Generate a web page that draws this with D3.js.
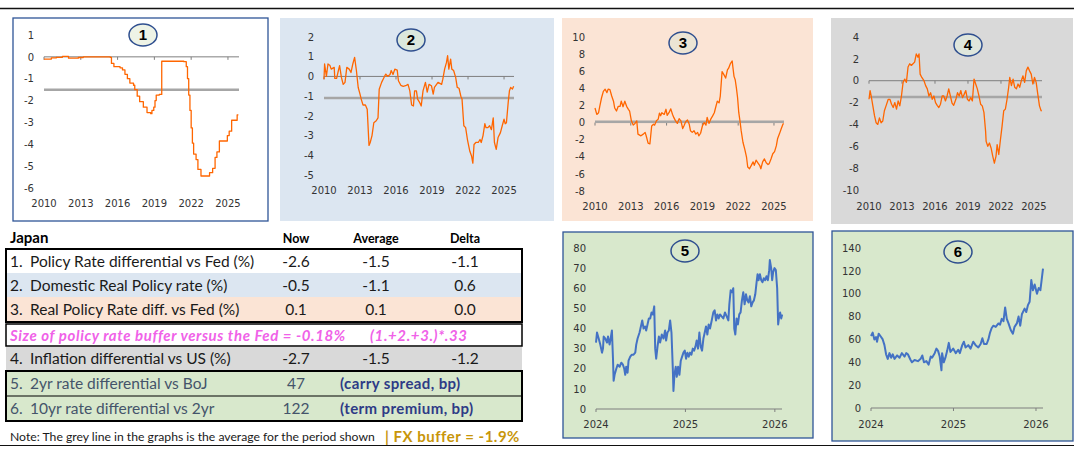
<!DOCTYPE html>
<html>
<head>
<meta charset="utf-8">
<script src="https://cdn.jsdelivr.net/npm/d3@7"></script>
<style>
body{margin:0;background:#fff}
svg{display:block}
</style>
</head>
<body>
<div id="graph"></div>
<script>
// x labels
var yearsLong = [2010, 2013, 2016, 2019, 2022, 2025]
var yearsShort = [2024, 2025, 2026]

// 1. policy rate differential vs Fed (step series)
var policyDiff = [[2010.0,-0.1],[2010.6,-0.05],[2011.0,-0.02],[2011.5,0.02],[2012.0,-0.06],[2012.8,-0.03],[2013.2,0],[2015.4,-0.02],[2015.5,-0.3],[2015.7,-0.45],[2016.2,-0.5],[2016.4,-0.6],[2016.6,-0.8],[2016.8,-1.0],[2017.0,-1.2],[2017.3,-1.3],[2017.4,-1.5],[2017.6,-1.8],[2017.8,-2.05],[2018.1,-2.3],[2018.4,-2.55],[2018.7,-2.6],[2018.8,-2.45],[2018.95,-2.3],[2019.05,-2.0],[2019.15,-1.75],[2019.4,-1.72],[2019.6,-0.2],[2021.4,-0.22],[2021.6,-0.45],[2021.7,-1.0],[2021.8,-1.75],[2021.9,-2.45],[2022.0,-3.25],[2022.1,-3.95],[2022.2,-4.45],[2022.4,-4.7],[2022.55,-5.15],[2022.8,-5.45],[2023.5,-5.3],[2023.75,-5.1],[2023.95,-4.6],[2024.1,-4.35],[2024.3,-3.85],[2024.95,-3.6],[2025.1,-3.4],[2025.3,-2.9],[2025.75,-2.65],[2025.85,-2.65]]

// 2. domestic real policy rate
var realPolicy = [[2010,-0.14],[2010.05,0.63],[2010.2,0],[2010.33,0.63],[2010.5,0.55],[2010.6,0.37],[2010.85,0.46],[2010.9,-0.1],[2011.05,-0.1],[2011.2,0.3],[2011.3,0.55],[2011.45,-0.05],[2011.6,-0.4],[2011.75,-0.3],[2011.9,0.46],[2012.1,0.37],[2012.25,0.2],[2012.4,0.63],[2012.55,0.97],[2012.7,0.3],[2012.85,-0.56],[2013,-0.9],[2013.1,-1.15],[2013.25,-1.45],[2013.45,-1.45],[2013.6,-1.66],[2013.75,-3.5],[2013.85,-3.35],[2014,-3.0],[2014.15,-2.35],[2014.35,-2.25],[2014.5,-2.1],[2014.6,-0.65],[2014.8,-0.3],[2015,-0.05],[2015.15,0.12],[2015.3,0],[2015.5,0.1],[2015.6,0.3],[2015.75,0.1],[2015.9,0.37],[2016.1,0.32],[2016.2,-0.22],[2016.4,-0.45],[2016.6,-0.5],[2016.8,-0.47],[2017,-0.4],[2017.15,-0.73],[2017.3,-1.45],[2017.45,-1.5],[2017.55,-0.73],[2017.7,-0.73],[2017.8,-1.15],[2017.95,-1.3],[2018.1,-1.5],[2018.25,-0.73],[2018.45,-0.3],[2018.6,-0.8],[2018.75,-0.4],[2018.95,-0.47],[2019.1,-0.9],[2019.2,-0.56],[2019.5,-0.3],[2019.8,-0.4],[2019.9,-0.14],[2020.05,0.37],[2020.2,0.7],[2020.3,1.05],[2020.4,0.37],[2020.55,0.88],[2020.65,0.37],[2020.8,0.3],[2020.97,-0.05],[2021.1,-0.56],[2021.25,-0.6],[2021.4,-1.0],[2021.5,-1.15],[2021.65,-2.5],[2021.8,-2.6],[2021.95,-3.2],[2022.15,-3.8],[2022.3,-4.05],[2022.4,-4.4],[2022.5,-3.45],[2022.65,-3.35],[2022.85,-3.35],[2023,-3.2],[2023.1,-3.35],[2023.25,-3.0],[2023.4,-2.4],[2023.5,-2.6],[2023.65,-2.6],[2023.8,-2.5],[2023.95,-2.7],[2024.1,-2.1],[2024.2,-3.35],[2024.35,-3.7],[2024.5,-3.1],[2024.7,-2.85],[2024.85,-2.5],[2025,-2.17],[2025.1,-2.4],[2025.2,-2.35],[2025.35,-1.3],[2025.45,-0.73],[2025.55,-0.56],[2025.7,-0.64],[2025.8,-0.5]]

// 3. real policy rate differential vs Fed
var realDiff = [[2010,1.7],[2010.15,0.95],[2010.3,1.15],[2010.4,1.9],[2010.55,2.9],[2010.7,3.65],[2010.85,3.9],[2011.0,3.5],[2011.1,3.9],[2011.25,3.85],[2011.4,3.1],[2011.55,2.5],[2011.65,1.7],[2011.8,1.35],[2011.95,1.9],[2012.1,1.9],[2012.2,2.5],[2012.35,1.85],[2012.5,2.5],[2012.65,1.9],[2012.8,1.55],[2012.9,1.35],[2013.05,0.2],[2013.2,-0.3],[2013.35,-0.1],[2013.5,0.2],[2013.6,-1.35],[2013.85,-1.55],[2014.05,-1.35],[2014.2,-1.15],[2014.3,-1.6],[2014.45,-2.4],[2014.6,-2.5],[2014.75,-0.4],[2014.9,-0.2],[2015,-0.3],[2015.15,0.2],[2015.3,0.4],[2015.4,1.1],[2015.5,0.8],[2015.6,1.15],[2015.8,0.95],[2015.95,1.55],[2016.05,0.85],[2016.2,1.15],[2016.35,1.6],[2016.5,0.95],[2016.6,0.6],[2016.75,0.2],[2016.9,-0.1],[2017.05,0.45],[2017.2,0.2],[2017.35,-0.7],[2017.45,-0.4],[2017.6,0.1],[2017.75,0.3],[2017.9,-0.2],[2018.0,-0.95],[2018.15,-1.15],[2018.3,-0.95],[2018.45,-1.35],[2018.6,-1.15],[2018.7,-1.55],[2018.85,-1.25],[2019.0,-0.4],[2019.15,0],[2019.3,-0.3],[2019.4,0.6],[2019.55,-0.1],[2019.7,0.4],[2019.85,0.75],[2020,1.15],[2020.1,1.7],[2020.25,2.5],[2020.4,2.3],[2020.5,3.1],[2020.6,5.0],[2020.65,5.95],[2020.8,5.6],[2020.95,5.2],[2021.1,6.15],[2021.2,6.35],[2021.35,6.9],[2021.5,7.2],[2021.55,6.55],[2021.65,5.4],[2021.75,5.0],[2021.85,4.05],[2021.95,2.9],[2022.05,1.15],[2022.15,0.2],[2022.25,-0.95],[2022.4,-2.3],[2022.55,-3.1],[2022.7,-4.05],[2022.8,-5.2],[2022.95,-5.4],[2023.1,-5.0],[2023.25,-4.6],[2023.35,-5.0],[2023.5,-4.4],[2023.65,-4.7],[2023.8,-5.0],[2023.9,-5.4],[2024.05,-4.6],[2024.2,-4.25],[2024.35,-4.7],[2024.5,-4.9],[2024.6,-4.8],[2024.75,-4.25],[2024.9,-3.65],[2025.05,-3.4],[2025.2,-2.7],[2025.3,-1.9],[2025.45,-1.35],[2025.6,-0.75],[2025.75,-0.2],[2025.8,-0.1]]

// 4. inflation differential vs US
var inflDiff = [[2010,-1.7],[2010.1,-0.9],[2010.2,-1.4],[2010.35,-2.3],[2010.5,-3.2],[2010.65,-3.85],[2010.8,-4.0],[2010.95,-3.4],[2011.1,-3.85],[2011.25,-3.7],[2011.4,-2.75],[2011.55,-2.3],[2011.75,-1.7],[2011.9,-1.7],[2012.05,-2.15],[2012.2,-2.45],[2012.35,-2.0],[2012.5,-2.6],[2012.65,-1.85],[2012.8,-2.3],[2012.95,-1.4],[2013.1,-0.15],[2013.25,0.15],[2013.4,-0.15],[2013.55,1.25],[2013.7,1.55],[2013.85,1.4],[2014,1.55],[2014.15,1.7],[2014.3,2.45],[2014.45,2.15],[2014.55,2.45],[2014.65,0.6],[2014.8,0.3],[2015.0,0],[2015.15,-0.45],[2015.3,-0.75],[2015.45,-1.4],[2015.6,-1.1],[2015.75,-1.7],[2015.9,-1.4],[2016.05,-2.0],[2016.2,-2.25],[2016.35,-2.45],[2016.5,-2.15],[2016.65,-1.4],[2016.8,-1.4],[2016.95,-1.85],[2017.1,-1.4],[2017.25,-0.75],[2017.4,-1.4],[2017.55,-2.05],[2017.7,-2.25],[2017.9,-1.7],[2018.05,-1.1],[2018.2,-1.4],[2018.35,-0.9],[2018.5,-1.55],[2018.65,-1.25],[2018.8,-0.9],[2018.95,-1.7],[2019.1,-1.85],[2019.25,-1.55],[2019.4,-1.85],[2019.55,0.15],[2019.7,-0.3],[2019.85,-0.75],[2020,-1.4],[2020.15,-2.15],[2020.3,-2.3],[2020.45,-2.9],[2020.6,-4.6],[2020.65,-5.55],[2020.8,-6.0],[2020.95,-5.7],[2021.1,-6.15],[2021.25,-6.9],[2021.4,-7.55],[2021.55,-6.9],[2021.65,-5.85],[2021.8,-6.75],[2021.95,-5.4],[2022.1,-4.15],[2022.25,-2.75],[2022.4,-2.6],[2022.55,-1.7],[2022.7,-0.6],[2022.8,0.3],[2022.95,-0.45],[2023.1,0.15],[2023.25,-0.6],[2023.4,-0.75],[2023.55,-0.3],[2023.7,-0.6],[2023.85,0],[2024,0.45],[2024.15,-0.15],[2024.3,0.9],[2024.45,1.25],[2024.6,0.9],[2024.75,0.6],[2024.9,-0.3],[2025.05,0.3],[2025.2,-0.15],[2025.35,-1.25],[2025.5,-2.3],[2025.65,-2.75],[2025.7,-2.7]]

// 5. 2yr rate differential vs BoJ (bp)
var carry = [[2024,33],[2024.011,38],[2024.03,35],[2024.048,32],[2024.067,28],[2024.078,30],[2024.086,36],[2024.104,35],[2024.123,33],[2024.134,36],[2024.152,32],[2024.167,36],[2024.178,39],[2024.19,25],[2024.197,14],[2024.208,17],[2024.227,20],[2024.242,22],[2024.264,21],[2024.283,23],[2024.301,22],[2024.316,20],[2024.327,17],[2024.338,21],[2024.353,18],[2024.364,24],[2024.383,26],[2024.401,27],[2024.42,27],[2024.439,28],[2024.45,32],[2024.465,35],[2024.487,38],[2024.502,41],[2024.517,44],[2024.532,40],[2024.55,41],[2024.561,39],[2024.576,42],[2024.591,45],[2024.606,45],[2024.621,48],[2024.636,47],[2024.651,51],[2024.662,30],[2024.673,25],[2024.688,31],[2024.703,36],[2024.717,33],[2024.736,37],[2024.755,35],[2024.773,39],[2024.784,34],[2024.799,38],[2024.814,39],[2024.829,44],[2024.844,38],[2024.859,20],[2024.866,9],[2024.877,17],[2024.892,21],[2024.903,16],[2024.918,21],[2024.933,17],[2024.948,24],[2024.963,26],[2024.978,28],[2024.993,29],[2025.007,25],[2025.022,28],[2025.037,26],[2025.052,28],[2025.067,27],[2025.082,30],[2025.097,29],[2025.112,31],[2025.126,34],[2025.141,30],[2025.156,38],[2025.171,31],[2025.186,29],[2025.201,35],[2025.216,38],[2025.23,41],[2025.245,37],[2025.26,42],[2025.275,40],[2025.294,44],[2025.312,48],[2025.327,49],[2025.342,44],[2025.357,47],[2025.372,45],[2025.387,47],[2025.405,46],[2025.424,45],[2025.442,48],[2025.461,46],[2025.48,44],[2025.491,52],[2025.506,59],[2025.52,58],[2025.535,60],[2025.546,40],[2025.558,37],[2025.572,45],[2025.587,42],[2025.602,47],[2025.617,48],[2025.632,54],[2025.647,58],[2025.662,52],[2025.677,57],[2025.691,54],[2025.706,53],[2025.721,56],[2025.736,51],[2025.751,53],[2025.766,54],[2025.781,57],[2025.796,63],[2025.807,67],[2025.818,64],[2025.833,67],[2025.848,64],[2025.862,63],[2025.877,65],[2025.892,64],[2025.907,66],[2025.922,64],[2025.937,69],[2025.944,74],[2025.959,70],[2025.97,64],[2025.981,68],[2025.996,70],[2026.011,69],[2026.026,60],[2026.037,42],[2026.048,46],[2026.059,48],[2026.071,45],[2026.082,47]]

// 6. 10yr rate differential vs 2yr (bp)
var termPremium = [[2024,63],[2024.02,66],[2024.041,60],[2024.061,62],[2024.073,58],[2024.093,65],[2024.114,63],[2024.142,60],[2024.163,55],[2024.183,47],[2024.203,43],[2024.224,48],[2024.244,44],[2024.264,47],[2024.285,43],[2024.317,46],[2024.346,44],[2024.374,48],[2024.407,45],[2024.427,48],[2024.447,47],[2024.48,42],[2024.496,40],[2024.528,42],[2024.569,41],[2024.602,43],[2024.622,46],[2024.642,40],[2024.671,41],[2024.699,38],[2024.724,45],[2024.74,44],[2024.772,48],[2024.793,52],[2024.813,50],[2024.833,45],[2024.854,33],[2024.862,48],[2024.882,40],[2024.902,44],[2024.923,50],[2024.943,57],[2024.963,49],[2024.996,52],[2025.028,48],[2025.057,51],[2025.077,48],[2025.106,55],[2025.126,58],[2025.146,53],[2025.179,55],[2025.207,52],[2025.24,58],[2025.268,55],[2025.301,53],[2025.329,56],[2025.35,61],[2025.37,56],[2025.402,56],[2025.423,60],[2025.443,66],[2025.463,70],[2025.484,72],[2025.512,71],[2025.545,74],[2025.565,73],[2025.585,78],[2025.606,76],[2025.626,88],[2025.646,78],[2025.667,74],[2025.695,68],[2025.72,65],[2025.74,71],[2025.768,74],[2025.789,80],[2025.809,72],[2025.829,82],[2025.862,87],[2025.882,84],[2025.902,90],[2025.923,93],[2025.943,112],[2025.963,103],[2025.984,108],[2026.012,100],[2026.033,105],[2026.053,103],[2026.065,110],[2026.085,122]]

// period averages (grey lines)
var averages = [-1.5, -1.1, 0.1, -1.5]

// table
var rowNums = ['1.', '2.', '3.', '4.', '5.', '6.']
var rowLabels = ['Policy Rate differential vs Fed (%)', 'Domestic Real Policy rate (%)', 'Real Policy Rate diff. vs Fed (%)', 'Inflation differential vs US (%)', '2yr rate differential vs BoJ', '10yr rate differential vs 2yr']
var nowVals = [-2.6, -0.5, 0.1, -2.7, 47, 122]
var avgVals = [-1.5, -1.1, 0.1, -1.5, null, null]
var deltaVals = [-1.1, 0.6, 0.0, -1.2, null, null]
var unitNotes = [null, null, null, null, '(carry spread, bp)', '(term premium, bp)']
var headers = ['Now', 'Average', 'Delta']

var W = 1080, H = 451
var svg = d3.select('#graph').append('svg').attr('width', W).attr('height', H)
var tickFont = '"DejaVu Sans", sans-serif'
var tabFont = 'Lato, "Open Sans", sans-serif'

// rules top and bottom
svg.append('line').attr('x1', 0).attr('x2', 1074).attr('y1', 8.5).attr('y2', 8.5).attr('stroke', '#111').attr('stroke-width', 1.5)
svg.append('line').attr('x1', 0).attr('x2', 1074).attr('y1', 445.5).attr('y2', 445.5).attr('stroke', '#111').attr('stroke-width', 1)

function panel(c){
  var g = svg.append('g')
  g.append('rect')
    .attr('x', c.box[0]).attr('y', c.box[1]).attr('width', c.box[2]).attr('height', c.box[3])
    .attr('fill', c.bg).attr('stroke', c.border || 'none').attr('stroke-width', 1.3)

  var x = d3.scaleLinear().domain(c.xDomain).range(c.xRange)
  var y = d3.scaleLinear().domain(c.yDomain).range(c.yRange)

  g.selectAll('text.yl').data(c.yTicks).join('text')
    .attr('x', c.xRange[0] - 10).attr('y', d => y(d) + 3.7)
    .attr('text-anchor', 'end').attr('font-family', tickFont).attr('font-size', 10).attr('fill', '#333')
    .text(d => d)

  g.selectAll('text.xl').data(c.xTicks).join('text')
    .attr('x', d => x(d)).attr('y', c.xLabelY)
    .attr('text-anchor', 'middle').attr('font-family', tickFont).attr('font-size', 10).attr('fill', '#333')
    .text(d => d)

  var y0 = y(0)
  g.append('line').attr('x1', c.xRange[0]).attr('x2', x(c.xDomain[1])).attr('y1', y0).attr('y2', y0)
    .attr('stroke', '#7f7f7f').attr('stroke-width', 1)
  g.selectAll('line.tk').data(c.xTicks).join('line')
    .attr('x1', d => x(d)).attr('x2', d => x(d)).attr('y1', y0).attr('y2', y0 + 3)
    .attr('stroke', '#7f7f7f')

  if (c.avg != null)
    g.append('line').attr('x1', c.xRange[0]).attr('x2', x(c.xDomain[1]))
      .attr('y1', y(c.avg)).attr('y2', y(c.avg)).attr('stroke', '#a6a6a6').attr('stroke-width', 2.5)

  var line = d3.line().x(d => x(d[0])).y(d => y(d[1])).curve(c.step ? d3.curveStepAfter : d3.curveLinear)
  g.append('path').datum(c.data).attr('d', line)
    .attr('fill', 'none').attr('stroke', c.color).attr('stroke-width', c.lw).attr('stroke-linejoin', 'round')

  g.append('ellipse').attr('cx', c.badge[0]).attr('cy', c.badge[1]).attr('rx', 14).attr('ry', 11)
    .attr('fill', c.badgeFill).attr('stroke', '#2f4f8f').attr('stroke-width', 1.5)
  g.append('text').attr('x', c.badge[0]).attr('y', c.badge[1] + 5).attr('text-anchor', 'middle')
    .attr('font-family', '"Liberation Sans", Arial, sans-serif').attr('font-weight', 'bold').attr('font-size', 15)
    .text(c.label)
}

panel({label: 1, data: policyDiff, step: true, avg: averages[0], box: [13, 18, 255, 203], bg: '#fff', border: '#2f5597',
  xDomain: [2010, 2025.9], xRange: [44, 239], yDomain: [-6, 1], yRange: [188, 35], yTicks: d3.range(1, -7, -1),
  xTicks: yearsLong, xLabelY: 207, color: '#ff6600', lw: 1.3, badge: [143, 35], badgeFill: '#eef3e6'})

panel({label: 2, data: realPolicy, avg: averages[1], box: [280, 18, 274, 203], bg: '#dce6f1',
  xDomain: [2010, 2025.83], xRange: [324, 514], yDomain: [-5, 2], yRange: [175, 37], yTicks: d3.range(2, -6, -1),
  xTicks: yearsLong, xLabelY: 194, color: '#ff6600', lw: 1.3, badge: [411, 40], badgeFill: '#dce8dd'})

panel({label: 3, data: realDiff, avg: averages[2], box: [562, 18, 251, 203], bg: '#fbe4d5',
  xDomain: [2010, 2025.84], xRange: [595, 784], yDomain: [-8, 10], yRange: [191, 37], yTicks: d3.range(10, -10, -2),
  xTicks: yearsLong, xLabelY: 210, color: '#ff6600', lw: 1.3, badge: [683, 43], badgeFill: '#ece4d4'})

panel({label: 4, data: inflDiff, avg: averages[3], box: [831, 18, 242, 206], bg: '#d9d9d9',
  xDomain: [2010, 2025.73], xRange: [869, 1042], yDomain: [-10, 4], yRange: [190, 37], yTicks: d3.range(4, -12, -2),
  xTicks: yearsLong, xLabelY: 210, color: '#ff6600', lw: 1.3, badge: [968, 45], badgeFill: '#dfe6dc'})

panel({label: 5, data: carry, box: [563, 232, 250, 206], bg: '#d8e8cc', border: '#2f5597',
  xDomain: [2024, 2026.08], xRange: [596, 782], yDomain: [0, 80], yRange: [409, 248], yTicks: d3.range(80, -10, -10),
  xTicks: yearsShort, xLabelY: 428, color: '#4472c4', lw: 2, badge: [685, 251], badgeFill: '#d8e8cc'})

panel({label: 6, data: termPremium, box: [832, 231, 241, 210], bg: '#d8e8cc', border: '#2f5597',
  xDomain: [2024, 2026.085], xRange: [871, 1043], yDomain: [0, 140], yRange: [408, 248], yTicks: d3.range(140, -20, -20),
  xTicks: yearsShort, xLabelY: 428, color: '#4472c4', lw: 2, badge: [958, 252], badgeFill: '#d8e8cc'})

// table
var t = svg.append('g').attr('font-family', tabFont)
var rowTop = [249, 273, 297, 347, 371, 396]
var rowH = [24, 24, 25, 23, 25, 25]
var rowBg = ['#ffffff', '#dce6f1', '#fbe4d5', '#d9d9d9', '#d8e8cc', '#d8e8cc']
var rowInk = ['#1a1a1a', '#1a1a1a', '#1a1a1a', '#1a1a1a', '#44546a', '#44546a']
var colX = [296, 376, 465]

t.append('text').attr('x', 10).attr('y', 243).attr('font-weight', 'bold').attr('font-size', 15).text('Japan')
t.selectAll('text.h').data(headers).join('text')
  .attr('x', (d, i) => colX[i]).attr('y', 243).attr('text-anchor', 'middle')
  .attr('font-weight', 'bold').attr('font-size', 12.5).text(d => d)

var rows = t.selectAll('g.row').data(rowLabels).join('g')
rows.append('rect').attr('x', 6).attr('y', (d, i) => rowTop[i]).attr('width', 516).attr('height', (d, i) => rowH[i])
  .attr('fill', (d, i) => rowBg[i])
rows.append('text').attr('x', 10).attr('y', (d, i) => rowTop[i] + rowH[i] / 2 + 5.5).attr('font-size', 15.5)
  .attr('fill', (d, i) => rowInk[i]).text((d, i) => rowNums[i])
rows.append('text').attr('x', 30).attr('y', (d, i) => rowTop[i] + rowH[i] / 2 + 5.5).attr('font-size', 15.5)
  .attr('fill', (d, i) => rowInk[i]).text(d => d)

var fmtV = (v, i) => i < 4 ? v.toFixed(1) : String(v)
;[nowVals, avgVals, deltaVals].forEach((vals, j) => {
  rows.filter((d, i) => vals[i] != null).append('text')
    .attr('x', colX[j]).attr('y', d => rowTop[rowLabels.indexOf(d)] + rowH[rowLabels.indexOf(d)] / 2 + 5.5)
    .attr('text-anchor', 'middle').attr('font-size', 15.5)
    .attr('fill', d => rowInk[rowLabels.indexOf(d)])
    .text(d => fmtV(vals[rowLabels.indexOf(d)], rowLabels.indexOf(d)))
})
rows.filter((d, i) => unitNotes[i]).append('text')
  .attr('x', 340).attr('y', d => rowTop[rowLabels.indexOf(d)] + rowH[rowLabels.indexOf(d)] / 2 + 5.5)
  .attr('font-size', 15).attr('letter-spacing', 0.4).attr('font-weight', 'bold').attr('fill', '#2e3b86')
  .text(d => unitNotes[rowLabels.indexOf(d)])

// boxes
t.append('rect').attr('x', 6).attr('y', 249).attr('width', 516).attr('height', 73).attr('fill', 'none').attr('stroke', '#000').attr('stroke-width', 2)
t.append('rect').attr('x', 6).attr('y', 324).attr('width', 516).attr('height', 22).attr('fill', '#fff').attr('stroke', '#000').attr('stroke-width', 1.5)
t.append('rect').attr('x', 6).attr('y', 371).attr('width', 516).attr('height', 50).attr('fill', 'none').attr('stroke', '#000').attr('stroke-width', 2)
t.append('line').attr('x1', 6).attr('x2', 522).attr('y1', 396).attr('y2', 396).attr('stroke', '#000').attr('stroke-width', 1)

t.append('text').attr('x', 10).attr('y', 341).attr('font-size', 15).attr('letter-spacing', 0.6).attr('font-weight', 'bold').attr('font-style', 'italic')
  .attr('fill', '#f062e8').text('Size of policy rate buffer versus the Fed = -0.18%')
t.append('text').attr('x', 370).attr('y', 341).attr('font-size', 15).attr('letter-spacing', 0.6).attr('font-weight', 'bold').attr('font-style', 'italic')
  .attr('fill', '#f062e8').text('(1.+2.+3.)*.33')

t.append('text').attr('x', 10).attr('y', 441).attr('font-size', 12.2).attr('fill', '#1a1a1a')
  .text('Note: The grey line in the graphs is the average for the period shown')
t.append('text').attr('x', 385).attr('y', 442).attr('font-size', 15).attr('letter-spacing', 0.5).attr('font-weight', 'bold').attr('fill', '#c8960a')
  .text('| FX buffer = -1.9%')
</script>
</body>
</html>
